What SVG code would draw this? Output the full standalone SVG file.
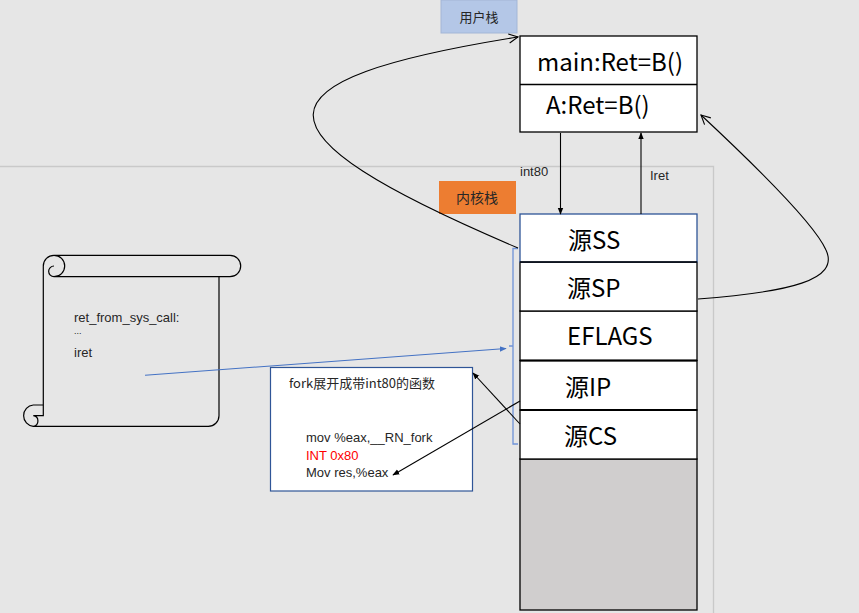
<svg xmlns="http://www.w3.org/2000/svg" width="859" height="613" viewBox="0 0 859 613">
<defs>
<style>
text{font-family:"Noto Sans CJK SC","Liberation Sans",sans-serif;fill:#262626}
.big{font-size:24px;fill:#000}
.mid{font-size:14px}
.sm{font-size:13px}
.lat{font-family:"Liberation Sans","Noto Sans CJK SC",sans-serif}
.cell{fill:#fff;stroke:#000;stroke-width:1.3}
.ln{fill:none;stroke:#000;stroke-width:1.1}
</style>
<marker id="tri" viewBox="0 0 10 10" refX="9" refY="5" markerWidth="7" markerHeight="7" orient="auto" markerUnits="userSpaceOnUse">
<path d="M0 1 L10 5 L0 9 Z" fill="#000"/>
</marker>
<marker id="triB" viewBox="0 0 10 10" refX="9" refY="5" markerWidth="7" markerHeight="7" orient="auto" markerUnits="userSpaceOnUse">
<path d="M0 1 L10 5 L0 9 Z" fill="#4472c4"/>
</marker>
<marker id="open" viewBox="0 0 12 12" refX="11" refY="6" markerWidth="11" markerHeight="11" orient="auto" markerUnits="userSpaceOnUse">
<path d="M1 1 L11 6 L1 11" fill="none" stroke="#000" stroke-width="1.2"/>
</marker>
</defs>
<rect x="0" y="0" width="859" height="613" fill="#e6e6e6"/>
<path d="M0 166.5 H713.5 V613" fill="none" stroke="#c9c9c9" stroke-width="1.3"/>

<g id="user-stack-label">
<rect x="441" y="0" width="76" height="33" fill="#b4c7e7" stroke="#a3b6d6" stroke-width="1"/>
<text x="479" y="22" class="sm" text-anchor="middle">用户栈</text>
</g>
<g id="user-stack">
<rect x="520" y="36" width="177" height="96" class="cell"/>
<line x1="520" y1="84.5" x2="697" y2="84.5" stroke="#000" stroke-width="1.3"/>
<text x="537" y="71" class="big">main:Ret=B()</text>
<text x="546" y="114" class="big">A:Ret=B()</text>
</g>
<g id="kernel-stack-label">
<rect x="439" y="181" width="77" height="33" fill="#ed7d31"/>
<text x="477" y="203" class="mid" text-anchor="middle">内核栈</text>
</g>
<g id="kernel-stack">
<rect x="520" y="459" width="177" height="151" fill="#d0cece" stroke="#000" stroke-width="1.3"/>
<rect x="520" y="410" width="177" height="49" class="cell"/>
<rect x="520" y="360.5" width="177" height="49.5" class="cell"/>
<rect x="520" y="311" width="177" height="49.5" class="cell"/>
<rect x="520" y="262" width="177" height="49" class="cell"/>
<rect x="520" y="214" width="177" height="48" fill="#fff" stroke="#2f5597" stroke-width="1.3"/>
<line x1="520" y1="262" x2="697" y2="262" stroke="#000" stroke-width="1.3"/>
<line x1="520" y1="360.5" x2="697" y2="360.5" stroke="#000" stroke-width="2"/>
<line x1="520" y1="410" x2="697" y2="410" stroke="#000" stroke-width="2"/>
<text x="568" y="249" class="big">源SS</text>
<text x="567" y="297" class="big">源SP</text>
<text x="567" y="345" class="big">EFLAGS</text>
<text x="565" y="396" class="big">源IP</text>
<text x="564" y="445" class="big">源CS</text>
<path d="M518 248.5 H513 V444 H518 M513 346 H509" fill="none" stroke="#6f93d8" stroke-width="1.3"/>
</g>
<g id="scroll">
<path d="M43.3 266 A10.7 10.7 0 0 1 54 255.3 H230 A10.7 10.7 0 0 1 230 276.7 H54 M219 276.7 V415.7 A10.7 10.7 0 0 1 208.3 426.3 H33.3 A10.7 10.7 0 0 1 33.3 405 H43.3 V266 M54 255.3 A10.7 10.7 0 0 1 54 276.7 A5.35 5.35 0 0 1 54 266 M43.3 405 V415.7 H33.3 A5.35 5.35 0 0 1 33.3 426.3" fill="none" stroke="#000" stroke-width="1.2"/>
<text x="74" y="322" class="sm lat">ret_from_sys_call:</text>
<text x="74" y="334" class="lat" style="font-size:9px">...</text>
<text x="74" y="357" class="sm lat">iret</text>
</g>
<g id="fork-box">
<rect x="270.5" y="367.5" width="202" height="123.5" fill="#fff" stroke="#2f5597" stroke-width="1.2"/>
<text x="289" y="388" class="sm">fork展开成带int80的函数</text>
<text x="306" y="442" class="sm lat">mov %eax,__RN_fork</text>
<text x="306" y="460" class="sm lat" style="fill:#ff0000">INT 0x80</text>
<text x="306" y="477" class="sm lat">Mov res,%eax</text>
</g>
<g id="connectors">
<line x1="560.5" y1="133" x2="560.5" y2="214" class="ln" marker-end="url(#tri)"/>
<line x1="641" y1="214" x2="641" y2="133" class="ln" marker-end="url(#tri)"/>
<text x="520" y="176" class="sm lat">int80</text>
<text x="650" y="180" class="sm lat">Iret</text>
<path d="M518 248 C240 130 250 80 518 37" class="ln" marker-end="url(#open)"/>
<path d="M698 299 C790 292 840 280 826 250 C815 225 760 170 701 115" class="ln" marker-end="url(#open)"/>
<line x1="145" y1="375.3" x2="506" y2="348.5" fill="none" stroke="#4472c4" stroke-width="1.1" marker-end="url(#triB)"/>
<line x1="520" y1="401" x2="393" y2="475" class="ln" marker-end="url(#tri)"/>
<line x1="520" y1="424" x2="473" y2="373" class="ln" marker-end="url(#tri)"/>
</g>
</svg>
